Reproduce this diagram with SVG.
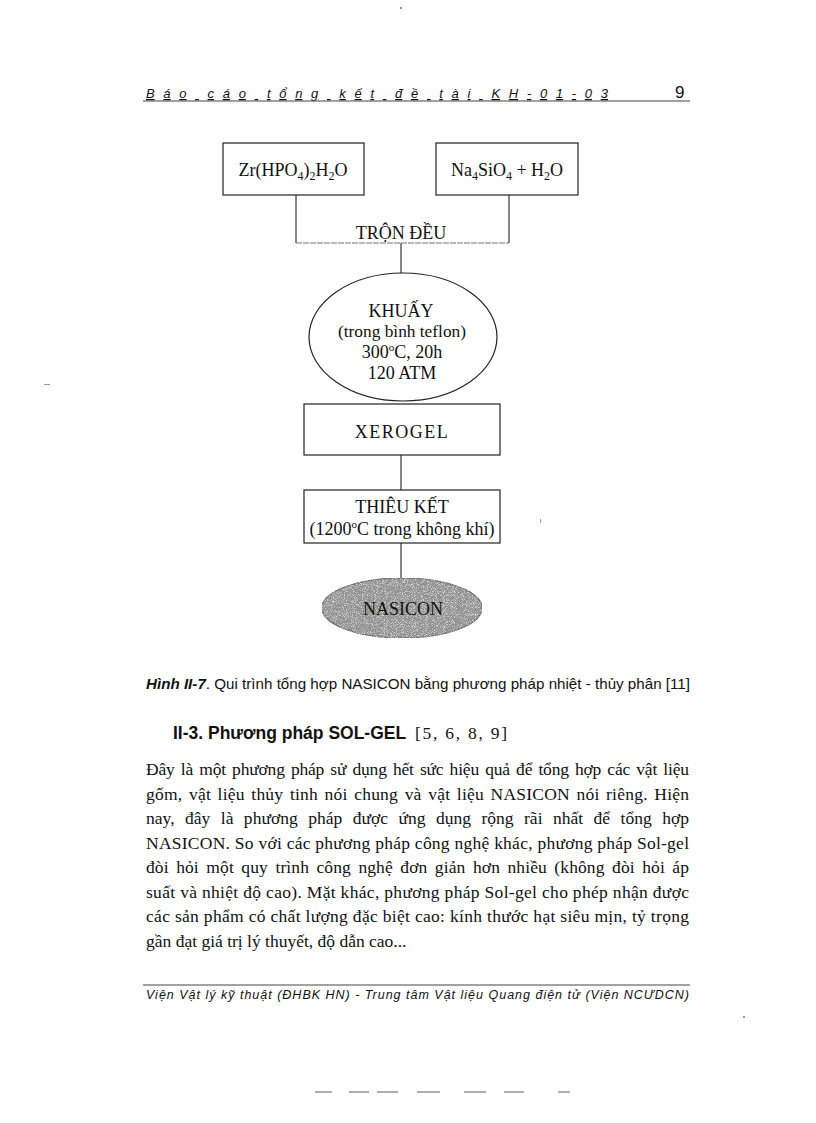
<svg xmlns="http://www.w3.org/2000/svg" width="816" height="1123" viewBox="0 0 816 1123">
<style>
.serif{font-family:"Liberation Serif","Times New Roman",serif;fill:#111}
.sans{font-family:"Liberation Sans",Arial,sans-serif;fill:#111}
.box{fill:#fff;stroke:#222;stroke-width:1.2}
.conn{stroke:#222;stroke-width:1.1;fill:none}
.node{font-size:18px;text-anchor:middle}
.para{font-size:17.5px}
</style>
<defs>
<filter id="grain" x="0" y="0" width="100%" height="100%">
<feTurbulence type="fractalNoise" baseFrequency="1.1" numOctaves="2" seed="5" result="n"/>
<feColorMatrix in="n" type="matrix" values="0 0 0 0 0.3  0 0 0 0 0.3  0 0 0 0 0.3  0 0 0 2.4 -0.9" result="dark"/>
<feColorMatrix in="n" type="matrix" values="0 0 0 0 0.85  0 0 0 0 0.85  0 0 0 0 0.85  0 0 0 -2.4 1.3" result="light"/>
<feComposite in="dark" in2="SourceGraphic" operator="in" result="d2"/>
<feComposite in="light" in2="SourceGraphic" operator="in" result="l2"/>
<feMerge><feMergeNode in="SourceGraphic"/><feMergeNode in="l2"/><feMergeNode in="d2"/></feMerge>
</filter>
</defs>
<rect width="816" height="1123" fill="#fff"/>

<!-- header -->
<g id="header">
<text class="sans" x="146" y="98" font-size="13" font-style="italic" textLength="462" lengthAdjust="spacing" text-decoration="underline">Báo cáo tổng kết đề tài KH-01-03</text>
<text class="sans" x="675" y="98" font-size="17">9</text>
<line x1="143" y1="101" x2="690" y2="101" stroke="#444" stroke-width="1"/>
</g>

<!-- connectors -->
<g id="connectors">
<line class="conn" x1="296" y1="195" x2="296" y2="243"/>
<line class="conn" x1="509" y1="195" x2="509" y2="243"/>
<line x1="296" y1="243" x2="509" y2="243" stroke="#777" stroke-width="1" stroke-dasharray="6 1"/>
<line class="conn" x1="401" y1="243" x2="401" y2="273"/>
<line class="conn" x1="401" y1="455" x2="401" y2="490"/>
<line class="conn" x1="401" y1="543" x2="401" y2="578"/>
</g>

<g id="node-zr">
<rect class="box" x="223" y="143" width="141" height="52"/>
<text class="serif node" x="293" y="176">Zr(HPO<tspan font-size="12" dy="4">4</tspan><tspan dy="-4">)</tspan><tspan font-size="12" dy="4">2</tspan><tspan dy="-4">H</tspan><tspan font-size="12" dy="4">2</tspan><tspan dy="-4">O</tspan></text>
</g>

<g id="node-na">
<rect class="box" x="436" y="143" width="142" height="52"/>
<text class="serif node" x="507" y="176">Na<tspan font-size="12" dy="4">4</tspan><tspan dy="-4">SiO</tspan><tspan font-size="12" dy="4">4</tspan><tspan dy="-4"> + H</tspan><tspan font-size="12" dy="4">2</tspan><tspan dy="-4">O</tspan></text>
</g>

<g id="node-tron">
<text class="serif node" x="401" y="239">TRỘN ĐỀU</text>
</g>

<g id="node-khuay">
<ellipse cx="403" cy="337" rx="94" ry="64" fill="#fff" stroke="#222" stroke-width="1.2"/>
<text class="serif node" x="401" y="317" font-size="18">KHUẤY</text>
<text class="serif" x="338" y="337" font-size="16" textLength="128" lengthAdjust="spacingAndGlyphs">(trong bình teflon)</text>
<text class="serif node" x="402" y="358">300<tspan font-size="11" dy="-7">o</tspan><tspan dy="7">C, 20h</tspan></text>
<text class="serif node" x="402" y="379" font-size="19">120 ATM</text>
</g>

<g id="node-xerogel">
<rect class="box" x="304" y="404" width="196" height="51"/>
<text class="serif node" x="402" y="438" font-size="16.5" letter-spacing="1.5">XEROGEL</text>
</g>

<g id="node-thieuket">
<rect class="box" x="304" y="490" width="196" height="53"/>
<text class="serif node" x="402" y="513" font-size="18">THIÊU KẾT</text>
<text class="serif node" x="402" y="535" font-size="18.5">(1200<tspan font-size="11" dy="-7">o</tspan><tspan dy="7">C trong không khí)</tspan></text>
</g>

<g id="node-nasicon">
<ellipse cx="402" cy="608" rx="80" ry="30" fill="#8e8e8e" stroke="#333" stroke-width="1.2" filter="url(#grain)"/>
<text class="serif node" x="403" y="615" font-size="19" fill="#3a3a3a">NASICON</text>
</g>

<!-- caption -->
<text class="sans" x="146" y="689" font-size="14.3" textLength="544" lengthAdjust="spacingAndGlyphs"><tspan font-weight="bold" font-style="italic">Hình II-7</tspan>. Qui trình tổng hợp NASICON bằng phương pháp nhiệt - thủy phân [11]</text>

<!-- heading -->
<g id="heading">
<text class="sans" x="173" y="739" font-size="17.5" font-weight="bold">II-3. Phương pháp SOL-GEL</text>
<text class="serif" x="415" y="739" font-size="17.5" textLength="92" lengthAdjust="spacing">[5, 6, 8, 9]</text>
</g>

<!-- paragraph -->
<g class="serif para" word-spacing="2">
<text x="146" y="775" textLength="543" lengthAdjust="spacing">Đây là một phương pháp sử dụng hết sức hiệu quả để tổng hợp các vật liệu</text>
<text x="146" y="799.5" textLength="543" lengthAdjust="spacing">gốm, vật liệu thủy tinh nói chung và vật liệu NASICON nói riêng. Hiện</text>
<text x="146" y="824" textLength="543" lengthAdjust="spacing" word-spacing="6">nay, đây là phương pháp được ứng dụng rộng rãi nhất để tổng hợp</text>
<text x="146" y="848.5" textLength="543" lengthAdjust="spacing" word-spacing="0">NASICON. So với các  phương pháp công nghệ khác, phương pháp Sol-gel</text>
<text x="146" y="873" textLength="543" lengthAdjust="spacing" word-spacing="3">đòi hỏi một quy trình công nghệ đơn giản hơn nhiều (không đòi hỏi áp</text>
<text x="146" y="897.5" textLength="543" lengthAdjust="spacing" word-spacing="0">suất và nhiệt độ cao). Mặt khác, phương pháp Sol-gel cho phép nhận được</text>
<text x="146" y="922" textLength="543" lengthAdjust="spacing" word-spacing="0">các sản phẩm có chất lượng đặc biệt cao: kính thước hạt siêu mịn, tỷ trọng</text>
<text x="146" y="946.5" word-spacing="0">gần đạt giá trị lý thuyết, độ dẫn cao...</text>
</g>

<!-- footer -->
<g id="footer">
<line x1="143" y1="985" x2="690" y2="985" stroke="#444" stroke-width="1"/>
<text class="sans" x="146" y="999" font-size="12.5" font-style="italic" textLength="543" lengthAdjust="spacing">Viện Vật lý kỹ thuật (ĐHBK HN) - Trung tâm Vật liệu Quang điện tử (Viện NCƯDCN)</text>
</g>

<!-- bottom scan dashes -->
<g stroke="#777" stroke-width="1.2">
<line x1="315" y1="1092" x2="332" y2="1092"/>
<line x1="349" y1="1092" x2="369" y2="1092"/>
<line x1="377" y1="1092" x2="398" y2="1092"/>
<line x1="417" y1="1092" x2="440" y2="1092"/>
<line x1="464" y1="1092" x2="486" y2="1092"/>
<line x1="504" y1="1092" x2="524" y2="1092"/>
<line x1="558" y1="1092" x2="570" y2="1092"/>
</g>
<g fill="#999">
<rect x="400" y="7" width="2" height="2"/>
<rect x="44" y="384" width="6" height="1"/>
<rect x="540" y="519" width="1" height="4"/>
<rect x="743" y="1016" width="2" height="2"/>
</g>
</svg>
